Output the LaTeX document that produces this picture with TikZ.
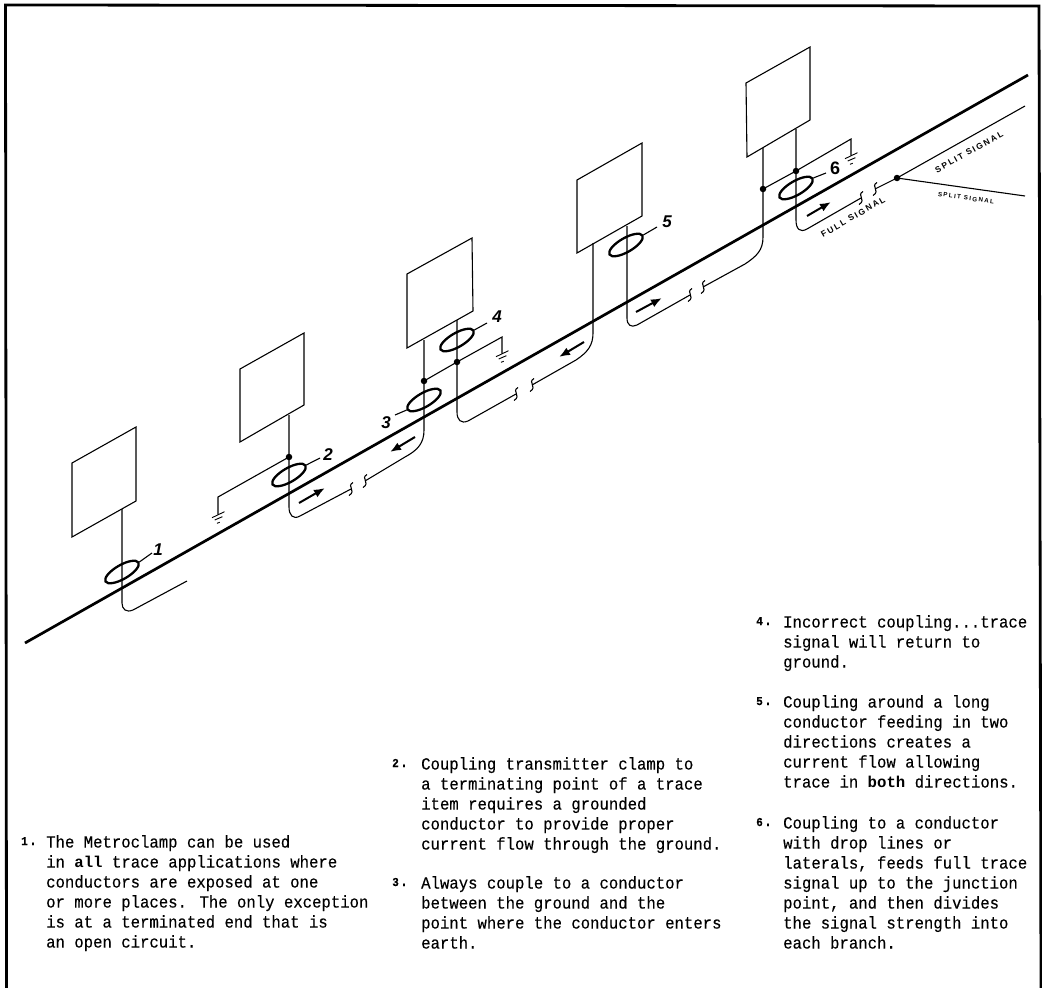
\documentclass[tikz,border=0pt]{standalone}
\usepackage{fontspec}
\setmainfont{Liberation Sans}
\newfontfamily\bodyfont[FakeStretch=0.92,FakeBold=0.25]{Liberation Mono}
\newfontfamily\inlinebold{Liberation Mono Bold}
\newfontfamily\tagfont[LetterSpace=22]{Liberation Sans Bold}
\newfontfamily\numfont{Liberation Sans Bold Italic}
\newfontfamily\uprightnum{Liberation Sans Bold}
\usetikzlibrary{shapes.geometric,arrows.meta}
\newcommand{\inbold}[1]{{\fontsize{15.7}{20}\inlinebold #1}}
\tikzset{
  frameline/.style={line width=2.8pt,black},
  mainline/.style={line width=2.7pt,black},
  wire/.style={line width=1.1pt,black},
  boxline/.style={line width=1.1pt,black},
  clamp/.style={draw,ellipse,line width=2.3pt,minimum width=38pt,minimum height=14pt,inner sep=0pt,rotate=30},
  jdot/.style={circle,fill=black,inner sep=0pt,minimum size=6.5pt},
  leader/.style={line width=1.1pt,black},
  flow/.style={line width=2pt,black,-{Latex[length=11pt,width=8.5pt]}},
  numlabel/.style={font=\fontsize{17}{17}\numfont,inner sep=0pt},
  tag/.style={font=\fontsize{8.4}{9}\tagfont,inner sep=0pt},
  body/.style={font=\fontsize{17}{20}\bodyfont,align=left,anchor=north west,inner sep=0pt},
  itemnum/.style={font=\fontsize{17}{20}\bodyfont,anchor=base west,inner sep=0pt},
  squig/.pic={\draw[line width=1.1pt] (2,-6.5) .. controls (-5,-2.5) and (6,1.5) .. (-2,6.5);},
  gnd/.pic={\draw[line width=0.9pt] (-6,3) -- (6.5,-3) (-3.3,5.3) -- (4.4,2) (-1,8.6) -- (1.7,7.6);},
}
\newcommand{\dignum}[1]{{\fontsize{12}{20}\selectfont\bfseries #1}\kern0.5pt.}
\begin{document}
\begin{tikzpicture}[x=1pt,y=-1pt]
\useasboundingbox (0,0) rectangle (1042,988);
\draw[frameline] (6.5,988) -- (5.5,5) -- (1039,6) -- (1041,988);
\coordinate (m1) at (25,643); \coordinate (m2) at (1028,75);
\draw[mainline] (m1) -- (m2);
% boxes
\draw[boxline] (72,463) -- (136,427) -- (136,501) -- (72,537) -- cycle;
\draw[boxline] (240,369) -- (304,333) -- (304,405) -- (240,442) -- cycle;
\draw[boxline] (407,274) -- (472,238) -- (473,311) -- (407,348) -- cycle;
\draw[boxline] (577,180) -- (642,143) -- (642,216) -- (577,253) -- cycle;
\draw[boxline] (746,83) -- (810,47) -- (810,120) -- (747,157) -- cycle;
% anchors
\coordinate (w1t) at (122,509); \coordinate (w1e) at (187,581);
\coordinate (w2t) at (289,415); \coordinate (s2a) at (351,489); \coordinate (s2b) at (365,481);
\coordinate (w3t) at (424,340); \coordinate (w4t) at (457,320);
\coordinate (s4a) at (516,394); \coordinate (s4b) at (532,385);
\coordinate (w5t) at (593,243); \coordinate (w5bt) at (627,226);
\coordinate (s5a) at (690,295); \coordinate (s5b) at (703,287);
\coordinate (w6t) at (763,148); \coordinate (w6bt) at (796,129);
\coordinate (s6a) at (861,198); \coordinate (s6b) at (875,189);
\coordinate (e6a) at (1025,106); \coordinate (e6b) at (1025,196);
\coordinate (g2) at (218,514.7); \coordinate (g4) at (502,353.7); \coordinate (g6) at (851,155.7);
% dots
\node[jdot] (d2) at (289,457) {};
\node[jdot] (d3) at (424,381) {};
\node[jdot] (d4) at (457,362) {};
\node[jdot] (d6a) at (763,189) {};
\node[jdot] (d6b) at (796,171) {};
\node[jdot] (d6c) at (897,178) {};
% wires
\draw[wire] (w1t) -- (122,603) .. controls (122,609) and (126,613) .. (133,610) -- (w1e);
\draw[wire] (w2t) -- (289,507) .. controls (289,515) and (293,520) .. (300,516) -- (s2a);
\draw[wire] (s2b) -- (405,457) .. controls (418,450) and (424,443) .. (424,430) -- (w3t);
\draw[wire] (w4t) -- (457,412) .. controls (457,420) and (461,424) .. (468,421) -- (s4a);
\draw[wire] (s4b) -- (576,360) .. controls (588,352) and (593,345) .. (593,333) -- (w5t);
\draw[wire] (w5bt) -- (627,318) .. controls (627,325) and (631,328) .. (637,325) -- (s5a);
\draw[wire] (s5b) -- (745,264) .. controls (757,256) and (763,250) .. (763,237) -- (w6t);
\draw[wire] (w6bt) -- (796,220) .. controls (796,229) and (800,233) .. (807,229) -- (s6a);
\draw[wire] (s6b) -- (d6c.center) -- (e6a);
\draw[wire] (d6c.center) -- (e6b);
\draw[wire] (d2.center) -- (218,497) -- (g2);
\draw[wire] (d3.center) -- (d4.center) -- (502,337) -- (g4);
\draw[wire] (d6a.center) -- (d6b.center) -- (851,139) -- (g6);
\pic at (g2) {gnd}; \pic at (g4) {gnd}; \pic at (g6) {gnd};
\pic at (s2a) {squig}; \pic at (s2b) {squig};
\pic at (s4a) {squig}; \pic at (s4b) {squig};
\pic at (s5a) {squig}; \pic at (s5b) {squig};
\pic at (s6a) {squig}; \pic at (s6b) {squig};
% clamps
\node[clamp] (c1) at (122,572) {};
\node[clamp] (c2) at (289,475) {};
\node[clamp] (c3) at (424,400) {};
\node[clamp] (c4) at (457,340) {};
\node[clamp] (c5) at (626,245) {};
\node[clamp] (c6) at (796,188) {};
% labels
\node[numlabel] (n1) at (158,550) {1};
\node[numlabel] (n2) at (328,455) {2};
\node[numlabel] (n3) at (386,423) {3};
\node[numlabel] (n4) at (497,317) {4};
\node[numlabel] (n5) at (667,222) {5};
\node[numlabel,font=\fontsize{18}{18}\uprightnum] (n6) at (835,168) {6};
\coordinate (l1) at (152,553); \coordinate (l2) at (320,458); \coordinate (l3) at (395,415);
\coordinate (l4) at (487,323); \coordinate (l5) at (657,227); \coordinate (l6) at (826,173);
\draw[leader] (c1.east) -- (l1);
\draw[leader] (c2.east) -- (l2);
\draw[leader] (c3.west) -- (l3);
\draw[leader] (c4.east) -- (l4);
\draw[leader] (c5.east) -- (l5);
\draw[leader] (c6.east) -- (l6);
% flow arrows
\coordinate (a2a) at (299,503); \coordinate (a2b) at (325,488);
\coordinate (a3a) at (415,437); \coordinate (a3b) at (390,452);
\coordinate (a4a) at (584,342); \coordinate (a4b) at (559,357);
\coordinate (a5a) at (636,312); \coordinate (a5b) at (662,298);
\coordinate (a6a) at (807,216); \coordinate (a6b) at (831,202);
\draw[flow] (a2a) -- (a2b);
\draw[flow] (a3a) -- (a3b);
\draw[flow] (a4a) -- (a4b);
\draw[flow] (a5a) -- (a5b);
\draw[flow] (a6a) -- (a6b);
% tags
\node[tag,rotate=30] (t1) at (853,217) {FULL SIGNAL};
\node[tag,rotate=29] (t2) at (969,152) {SPLIT SIGNAL};
\node[tag,rotate=-8,font=\fontsize{6.2}{7}\tagfont] (t3) at (966,198) {SPLIT SIGNAL};
% body text
\node[itemnum] (i1) at (21,845) {\dignum{1}};
\node[body] (b1) at (46,835) {The Metroclamp can be used\\in \inbold{all} trace applications where\\conductors are exposed at one\\or more places. The only exception\\is at a terminated end that is\\an open circuit.};
\node[itemnum] (i2) at (392,767) {\dignum{2}};
\node[body] (b2) at (421,757) {Coupling transmitter clamp to\\a terminating point of a trace\\item requires a grounded\\conductor to provide proper\\current flow through the ground.};
\node[itemnum] (i3) at (392,886) {\dignum{3}};
\node[body] (b3) at (421,876) {Always couple to a conductor\\between the ground and the\\point where the conductor enters\\earth.};
\node[itemnum] (i4) at (756,625) {\dignum{4}};
\node[body] (b4) at (783,615) {Incorrect coupling...trace\\signal will return to\\ground.};
\node[itemnum] (i5) at (756,705) {\dignum{5}};
\node[body] (b5) at (783,695) {Coupling around a long\\conductor feeding in two\\directions creates a\\current flow allowing\\trace in \inbold{both} directions.};
\node[itemnum] (i6) at (756,826) {\dignum{6}};
\node[body] (b6) at (783,816) {Coupling to a conductor\\with drop lines or\\laterals, feeds full trace\\signal up to the junction\\point, and then divides\\the signal strength into\\each branch.};
\end{tikzpicture}
\end{document}
